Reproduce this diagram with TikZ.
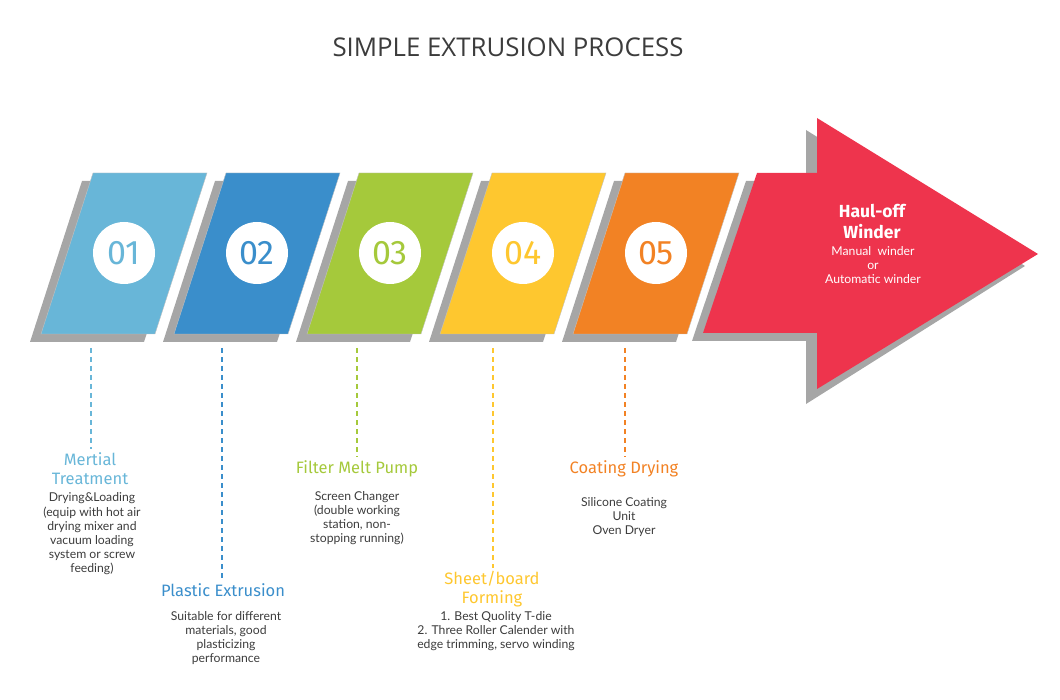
\documentclass[tikz,border=0pt]{standalone}
\usepackage{tikz}
\usepackage{xcolor}
\usepackage{fontspec}
\usetikzlibrary{positioning,calc}
\setmainfont{Lato}
\newfontfamily\titlefont{Open Sans}
\newfontfamily\headfont{Fira Sans}
\newfontfamily\numfont{Fira Sans}
\definecolor{stepblue}{RGB}{104, 182, 216}
\definecolor{stepdeep}{RGB}{58, 142, 203}
\definecolor{steplime}{RGB}{165, 201, 59}
\definecolor{stepgold}{RGB}{254, 199, 47}
\definecolor{steporange}{RGB}{242, 130, 36}
\definecolor{winderred}{RGB}{238, 52, 77}
\definecolor{shadowgray}{RGB}{166, 166, 166}
\definecolor{bodygray}{RGB}{60, 60, 60}
\tikzset{
  card/.style={fill=#1, draw=shadowgray!70, line width=.4pt},
  cardshadow/.style={fill=shadowgray, xshift=-11pt, yshift=-8pt},
  numdisc/.style={circle, fill=white, minimum size=62pt, inner sep=0pt,
    font=\numfont\fontsize{34}{34}\selectfont, text=#1},
  stephead/.style={align=center, text=#1, font=\headfont\fontsize{16.5}{19}\selectfont},
  stepbody/.style={align=center, text=bodygray, font=\fontsize{12.2}{14.2}\selectfont},
  guide/.style={draw=#1, line width=2pt, dash pattern=on 5pt off 4pt}
}

\begin{document}
\begin{tikzpicture}[x=1pt,y=-1pt]
        \useasboundingbox (0,0) rectangle (1060,700);

        % Title
        \node[font=\titlefont\fontsize{25.8}{26}\selectfont, text=bodygray] (title) at (508,47) {SIMPLE EXTRUSION PROCESS};

        % Shadows
        \fill[cardshadow] (93,173) -- (207,173) -- (155,334) -- (41,334) -- cycle;
        \fill[cardshadow] (226,173) -- (340,173) -- (288,334) -- (174,334) -- cycle;
        \fill[cardshadow] (359,173) -- (473,173) -- (421,334) -- (307,334) -- cycle;
        \fill[cardshadow] (492,173) -- (606,173) -- (554,334) -- (440,334) -- cycle;
        \fill[cardshadow] (625,173) -- (739,173) -- (687,334) -- (573,334) -- cycle;
        \fill[shadowgray] (692,341) -- (746,181) -- (806,181) -- (806,130) -- (1025,266) -- (806,404) -- (806,341) -- cycle;

        % Cards
        \draw[card=stepblue] (93,173) -- (207,173) -- (155,334) -- (41,334) -- cycle;
        \draw[card=stepdeep] (226,173) -- (340,173) -- (288,334) -- (174,334) -- cycle;
        \draw[card=steplime] (359,173) -- (473,173) -- (421,334) -- (307,334) -- cycle;
        \draw[card=stepgold] (492,173) -- (606,173) -- (554,334) -- (440,334) -- cycle;
        \draw[card=steporange] (625,173) -- (739,173) -- (687,334) -- (573,334) -- cycle;
        \fill[winderred] (703,333) -- (757,173) -- (817,173) -- (817,118) -- (1038,254) -- (817,389) -- (817,333) -- cycle;

        % Numbers
        \node[numdisc=stepblue] (num1) at (124,253) {01};
        \node[numdisc=stepdeep] (num2) at (257,253) {02};
        \node[numdisc=steplime] (num3) at (390,253) {03};
        \node[numdisc=stepgold] (num4) at (523,253) {04};
        \node[numdisc=steporange] (num5) at (656,253) {05};

        % Winder text
        \node[align=center, text=white, font=\headfont\bfseries\fontsize{17.5}{21}\selectfont] (winder) at (872,222) {Haul-off\\Winder};
        \node[align=center, text=white, font=\fontsize{12.2}{14}\selectfont] (winderbody) at (873,265) {Manual\ \ winder\\or\\Automatic winder};

        % Step labels
        \node[stephead=stepblue] (head1) at (90,469) {Mertial\\Treatment};
        \node[stepbody] (body1) at (92,534) {Drying\&Loading\\(equip with hot air\\drying mixer and\\vacuum loading\\system or screw\\feeding)};
        \node[stephead=stepdeep] (head2) at (223,590) {Plastic Extrusion};
        \node[stepbody] (body2) at (226,638) {Suitable for different\\materials, good\\plasticizing\\performance};
        \node[stephead=steplime] (head3) at (357,469) {Filter Melt Pump};
        \node[stepbody] (body3) at (357,518) {Screen Changer\\(double working\\station, non-\\stopping running)};
        \node[stephead=stepgold] (head4) at (492,589) {Sheet/board\\Forming};
        \node[stepbody] (body4) at (496,631) {1. Best Quolity T-die\\2. Three Roller Calender with\\edge trimming, servo winding};
        \node[stephead=steporange] (head5) at (624,469) {Coating Drying};
        \node[stepbody] (body5) at (624,517) {Silicone Coating\\Unit\\Oven Dryer};

        % Guides
        \coordinate (foot1) at (91,348);
        \coordinate (foot2) at (222,348);
        \coordinate (foot3) at (357,348);
        \coordinate (foot4) at (493,348);
        \coordinate (foot5) at (625,348);
        \draw[guide=stepblue] (foot1) -- (foot1 |- head1.north);
        \draw[guide=stepdeep] (foot2) -- (foot2 |- head2.north);
        \draw[guide=steplime] (foot3) -- (foot3 |- head3.north);
        \draw[guide=stepgold] (foot4) -- (foot4 |- head4.north);
        \draw[guide=steporange] (foot5) -- (foot5 |- head5.north);
    \end{tikzpicture}
\end{document}
